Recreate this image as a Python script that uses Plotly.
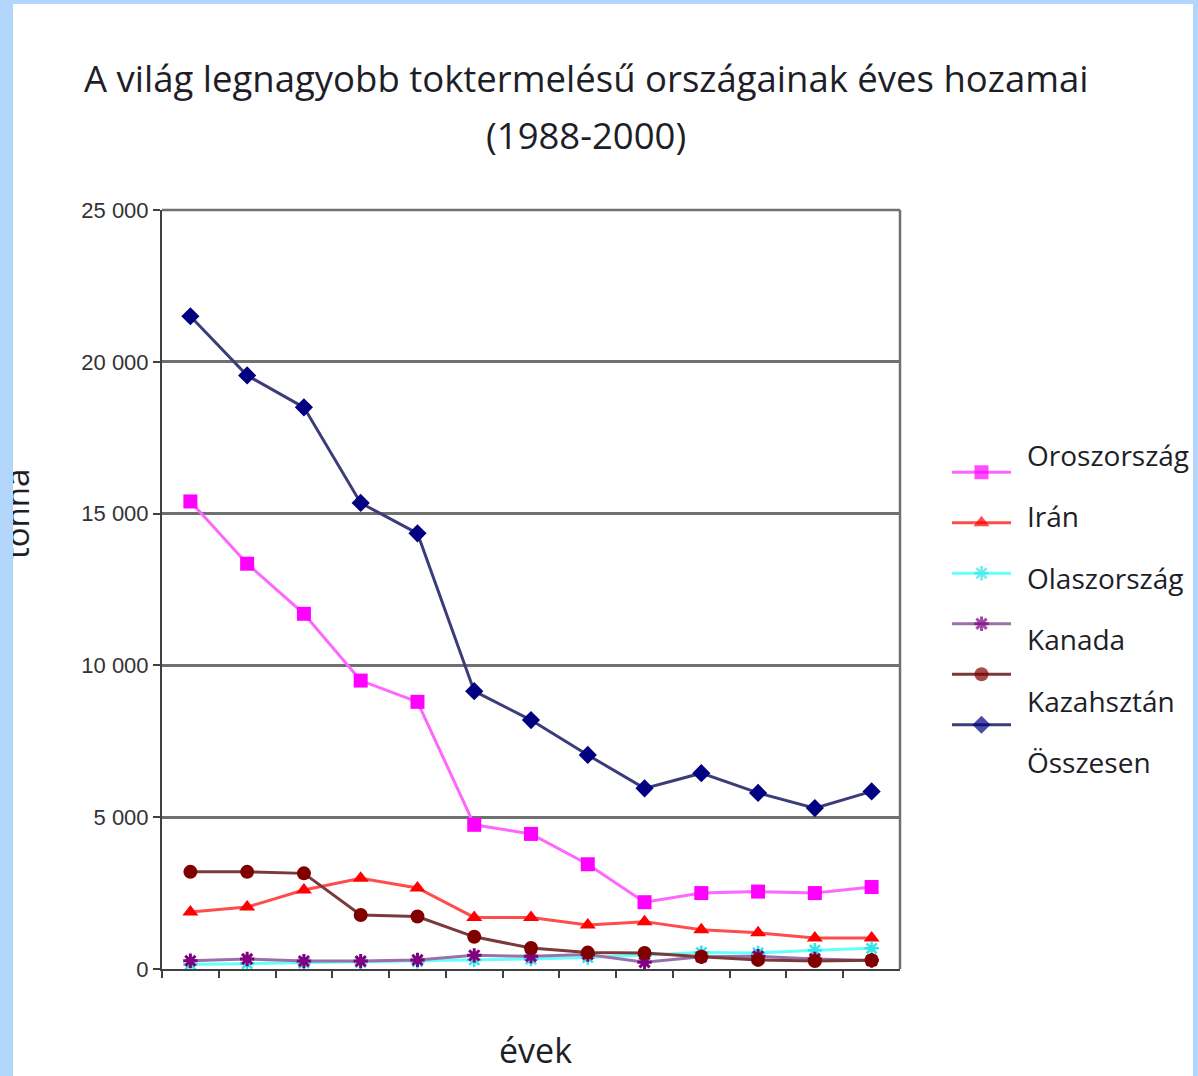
import plotly.graph_objects as go

# ---------------- data ----------------
years = [str(y) for y in range(1988, 2001)]
series_names = ["Oroszország", "Irán", "Olaszország", "Kanada", "Kazahsztán", "Összesen"]
oroszorszag = [15400, 13350, 11700, 9500, 8800, 4750, 4450, 3450, 2200, 2500, 2550, 2500, 2700]
iran = [1880, 2040, 2600, 2990, 2670, 1700, 1700, 1450, 1560, 1290, 1190, 1020, 1020]
olaszorszag = [150, 180, 200, 220, 250, 300, 330, 380, 450, 540, 530, 620, 680]
kanada = [270, 330, 260, 260, 300, 450, 420, 480, 220, 400, 420, 330, 280]
kazahsztan = [3200, 3200, 3150, 1780, 1730, 1060, 690, 540, 530, 400, 300, 260, 290]
osszesen = [21500, 19550, 18500, 15350, 14350, 9150, 8200, 7050, 5950, 6450, 5800, 5300, 5850]
ytick_vals = [0, 5000, 10000, 15000, 20000, 25000]
ytick_text = ["0", "5 000", "10 000", "15 000", "20 000", "25 000"]

series_values = [oroszorszag, iran, olaszorszag, kanada, kazahsztan, osszesen]

# ---------------- styles ----------------
styles = [
    dict(line="#ff66ff", marker="#ff00ff", symbol="square", size=14, mline=0),
    dict(line="#ff4c4c", marker="#ff0000", symbol="triangle-up", size=14, mline=0),
    dict(line="#66ffff", marker="#33e6e6", symbol="asterisk", size=12, mline=2.5),
    dict(line="#9a70a8", marker="#800080", symbol="asterisk", size=12, mline=3),
    dict(line="#7a3a3a", marker="#800000", symbol="circle", size=14, mline=0),
    dict(line="#3c3c78", marker="#000080", symbol="diamond", size=14, mline=0),
]

W, H = 1198, 1076
ML, MR, MT, MB = 20, 5, 5, 5
PW, PH = W - ML - MR, H - MT - MB


def px(x):
    return (x - ML) / PW


def py(y):
    return (H - MB - y) / PH


FONT = "'Open Sans', Lato, sans-serif"
TXT = "#1e1e28"
BLUE = "#b3d7fc"

fig = go.Figure()

for name, vals, st in zip(series_names, series_values, styles):
    fig.add_trace(go.Scatter(
        x=years, y=vals, name=name, mode="lines+markers",
        line=dict(color=st["line"], width=3),
        marker=dict(symbol=st["symbol"], size=st["size"], color=st["marker"],
                    line=dict(color=st["marker"], width=st["mline"])),
        showlegend=False, xaxis="x", yaxis="y",
    ))

# custom legend symbols (line with a marker in the middle), drawn on a helper axis
for i, (name, st) in enumerate(zip(series_names, styles)):
    fig.add_trace(go.Scatter(
        x=[0, 0.5, 1], y=[i, i, i], mode="lines+markers",
        line=dict(color=st["line"], width=3),
        marker=dict(symbol=st["symbol"], size=[0, st["size"], 0], color=st["marker"],
                    line=dict(color=st["marker"], width=st["mline"])),
        showlegend=False, hoverinfo="skip", xaxis="x2", yaxis="y2",
    ))

annotations = []
leg_text_top, leg_text_step = 455, 61.4
for i, name in enumerate(series_names):
    annotations.append(dict(
        text=name, xref="paper", yref="paper", x=px(1025), y=py(leg_text_top + leg_text_step * i),
        xanchor="left", yanchor="middle", showarrow=False,
        font=dict(family=FONT, size=28, color=TXT),
    ))

# title lines
annotations.append(dict(
    text="A világ legnagyobb toktermelésű országainak éves hozamai",
    xref="paper", yref="paper", x=px(586), y=py(78), xanchor="center", yanchor="middle",
    showarrow=False, font=dict(family=FONT, size=36.5, color=TXT),
))
annotations.append(dict(
    text="(1988-2000)",
    xref="paper", yref="paper", x=px(586), y=py(135), xanchor="center", yanchor="middle",
    showarrow=False, font=dict(family=FONT, size=36.5, color=TXT),
))
# axis titles
annotations.append(dict(
    text="évek", xref="paper", yref="paper", x=px(535), y=py(1074),
    xanchor="center", yanchor="bottom", showarrow=False, borderpad=0,
    font=dict(family=FONT, size=34, color=TXT),
))
annotations.append(dict(
    text="tonna", xref="paper", yref="paper", x=px(16), y=py(514),
    xanchor="center", yanchor="middle", textangle=-90, showarrow=False,
    font=dict(family=FONT, size=33, color=TXT),
))
# light-blue strip on the left edge, covering part of the y title (as in the source image)
annotations.append(dict(
    text=" ", xref="paper", yref="paper", x=px(0), y=py(514),
    xanchor="left", yanchor="middle", showarrow=False,
    width=13, height=200, bgcolor=BLUE, borderpad=0, borderwidth=0,
))

shapes = [
    dict(type="rect", xref="paper", yref="paper", x0=px(0), x1=px(13), y0=py(H), y1=py(0),
         fillcolor=BLUE, line=dict(width=0), layer="above"),
    dict(type="rect", xref="paper", yref="paper", x0=px(0), x1=px(W), y0=py(4), y1=py(0),
         fillcolor=BLUE, line=dict(width=0), layer="above"),
    dict(type="rect", xref="paper", yref="paper", x0=px(1193), x1=px(W), y0=py(H), y1=py(0),
         fillcolor=BLUE, line=dict(width=0), layer="above"),
]

fig.update_layout(
    template=None,
    width=W, height=H,
    margin=dict(l=ML, r=MR, t=MT, b=MB, autoexpand=False),
    paper_bgcolor="white", plot_bgcolor="white",
    showlegend=False,
    annotations=annotations, shapes=shapes,
    xaxis=dict(
        domain=[px(162), px(900)], type="category", range=[-0.5, 12.5],
        showticklabels=False, ticks="outside", tickson="boundaries", ticklen=7,
        tickwidth=2, tickcolor="#404040", showgrid=False, automargin=False,
        showline=True, linecolor="#404040", linewidth=2, mirror=False, zeroline=False,
        anchor="y",
    ),
    yaxis=dict(
        domain=[py(969), py(210)], range=[0, 25000],
        tickvals=ytick_vals, ticktext=ytick_text, automargin=False,
        ticks="outside", ticklen=7, tickwidth=2, tickcolor="#404040",
        tickfont=dict(family="'Liberation Sans', Arial, sans-serif", size=22, color="#333333"),
        showgrid=True, gridcolor="#707070", gridwidth=2.5,
        showline=True, linecolor="#404040", linewidth=2, zeroline=False,
        anchor="x",
    ),
    xaxis2=dict(domain=[px(952), px(1011)], range=[0, 1], visible=False, anchor="y2", automargin=False),
    yaxis2=dict(domain=[py(750), py(447)], range=[5.5, -0.5], visible=False, anchor="x2", automargin=False),
)

# plot frame top/right
fig.add_shape(type="line", xref="x domain", yref="y domain", x0=0, x1=1, y0=1, y1=1,
              line=dict(color="#707070", width=2.5))
fig.add_shape(type="line", xref="x domain", yref="y domain", x0=1, x1=1, y0=0, y1=1,
              line=dict(color="#707070", width=2.5))

fig.write_html("out.html", config={"displayModeBar": False},
               post_script="document.body.style.margin='0';")
